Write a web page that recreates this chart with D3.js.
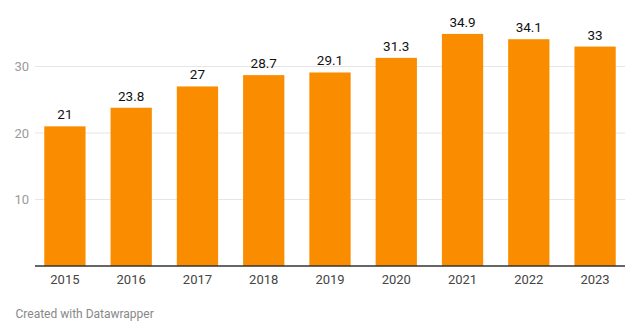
<!DOCTYPE html>
<html><head><meta charset="utf-8">
<script src="https://cdn.jsdelivr.net/npm/d3@7"></script>
<style>
body{margin:0;background:#fff;font-family:Roboto,"Noto Sans",sans-serif;}
svg{display:block;}
</style></head><body>
<svg id="c" width="640" height="335"></svg>
<script>
const years = ["2015","2016","2017","2018","2019","2020","2021","2022","2023"];
const values = [21, 23.8, 27, 28.7, 29.1, 31.3, 34.9, 34.1, 33];
const yTicks = [10, 20, 30];

const svg = d3.select("#c");
const left = 35, right = 625, baseY = 266;
const y = d3.scaleLinear().domain([0, 10]).range([baseY, baseY - 66.5]);
const x = d3.scaleBand().domain(years).range([left, right]).paddingInner(0.377).paddingOuter(0.14);

// gridlines
svg.append("g").selectAll("line").data(yTicks).join("line")
  .attr("x1", left).attr("x2", right)
  .attr("y1", d => y(d)).attr("y2", d => y(d))
  .attr("stroke", "#e6e6e6").attr("stroke-width", 1);

// y labels
svg.append("g").selectAll("text").data(yTicks).join("text")
  .attr("x", 29).attr("y", d => y(d)).attr("dy", "0.35em")
  .attr("text-anchor", "end").attr("fill", "#9a9a9a")
  .attr("font-size", 13).text(d => d);

// bars
svg.append("g").selectAll("rect").data(values).join("rect")
  .attr("x", (d, i) => x(years[i])).attr("width", x.bandwidth())
  .attr("y", d => y(d)).attr("height", d => baseY - y(d))
  .attr("fill", "#fa8c00");

// value labels
svg.append("g").selectAll("text").data(values).join("text")
  .attr("x", (d, i) => x(years[i]) + x.bandwidth() / 2)
  .attr("y", d => y(d) - 7)
  .attr("text-anchor", "middle").attr("fill", "#111")
  .attr("font-size", 13.5).text(d => d);

// baseline
svg.append("line").attr("x1", left).attr("x2", right)
  .attr("y1", baseY).attr("y2", baseY)
  .attr("stroke", "#333").attr("stroke-width", 1.5);

// x labels
svg.append("g").selectAll("text").data(years).join("text")
  .attr("x", d => x(d) + x.bandwidth() / 2).attr("y", 279.5).attr("dy", "0.35em")
  .attr("text-anchor", "middle").attr("fill", "#444")
  .attr("font-size", 13).text(d => d);

// footer
svg.append("text").attr("x", 15.5).attr("y", 313.5).attr("dy", "0.35em")
  .attr("fill", "#888").attr("font-size", 12).text("Created with Datawrapper");
</script>
</body></html>
